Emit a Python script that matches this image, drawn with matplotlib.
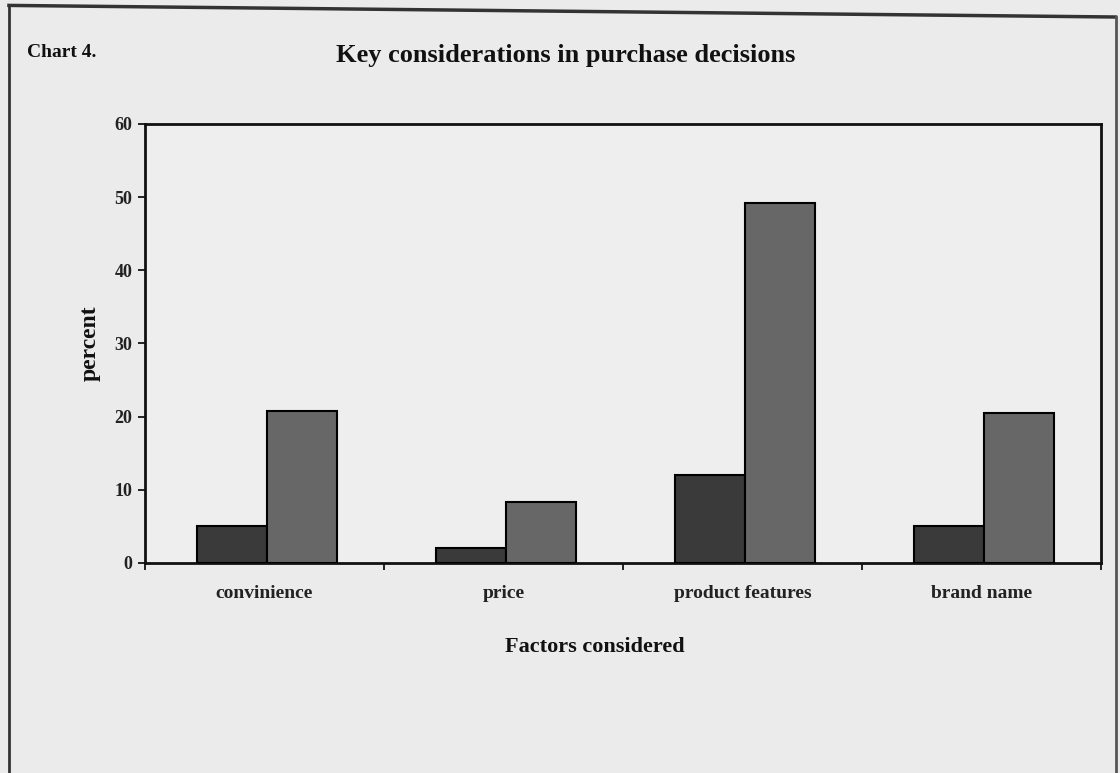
import matplotlib
matplotlib.use("Agg")
import matplotlib.pyplot as plt
import numpy as np
from matplotlib.lines import Line2D

categories = ["convinience", "price", "product features", "brand name"]
series_a = [5.0, 2.0, 12.0, 5.0]
series_b = [20.8, 8.3, 49.2, 20.5]
yticks = [0, 10, 20, 30, 40, 50, 60]

plt.rcParams['font.family'] = ['Liberation Serif', 'DejaVu Serif']

bg = "#ebebeb"
fig = plt.figure(figsize=(11.2, 7.73), dpi=100, facecolor=bg)
ax = fig.add_axes([0.1295, 0.2717, 0.8535, 0.5679], facecolor="#eeeeee")

x = np.arange(len(categories))
w = 0.293
ax.bar(x - w / 2 + 0.01, series_a, width=w, color="#3a3a3a", edgecolor="black", linewidth=1.5, zorder=3)
ax.bar(x + w / 2 + 0.01, series_b, width=w, color="#676767", edgecolor="black", linewidth=1.5, zorder=3)

ax.set_xlim(-0.5, len(categories) - 0.5)
ax.set_ylim(0, 60)
ax.set_yticks(yticks)
ax.set_yticklabels([str(t) for t in yticks], fontsize=13, fontweight="bold", color="#222222")
ax.set_xticks(np.arange(len(categories) + 1) - 0.5, minor=False)
ax.set_xticklabels([])
ax.set_xticks(x, minor=True)
ax.set_xticklabels(categories, minor=True, fontsize=14, fontweight="bold", color="#222222")
ax.tick_params(axis="x", which="minor", length=0, pad=16)
ax.tick_params(axis="x", which="major", length=5, width=1.2, direction="out")
ax.tick_params(axis="y", length=5, width=1.2, direction="out", pad=4)
for s in ax.spines.values():
    s.set_linewidth(2)
    s.set_color("#111111")

ax.set_ylabel("percent", fontsize=17, fontweight="bold", color="#111111")
ax.yaxis.set_label_coords(-0.046, 0.5)
ax.set_xlabel("Factors considered", fontsize=16, fontweight="bold", color="#111111")
ax.xaxis.set_label_coords(0.47, -0.168)

fig.text(0.505, 0.928, "Key considerations in purchase decisions", ha="center", va="center",
         fontsize=19, fontweight="bold", color="#111111")
fig.text(0.024, 0.932, "Chart 4.", ha="left", va="center", fontsize=14, fontweight="bold", color="#111111")

# outer scanned frame
fig.add_artist(Line2D([0.008, 0.996], [0.993, 0.978], transform=fig.transFigure, color="#333333", lw=2.5))
fig.add_artist(Line2D([0.008, 0.008], [0.993, 0.0], transform=fig.transFigure, color="#333333", lw=2))
fig.add_artist(Line2D([0.996, 0.996], [0.978, 0.0], transform=fig.transFigure, color="#555555", lw=2))

fig.savefig("out.png", dpi=100, facecolor=bg)
